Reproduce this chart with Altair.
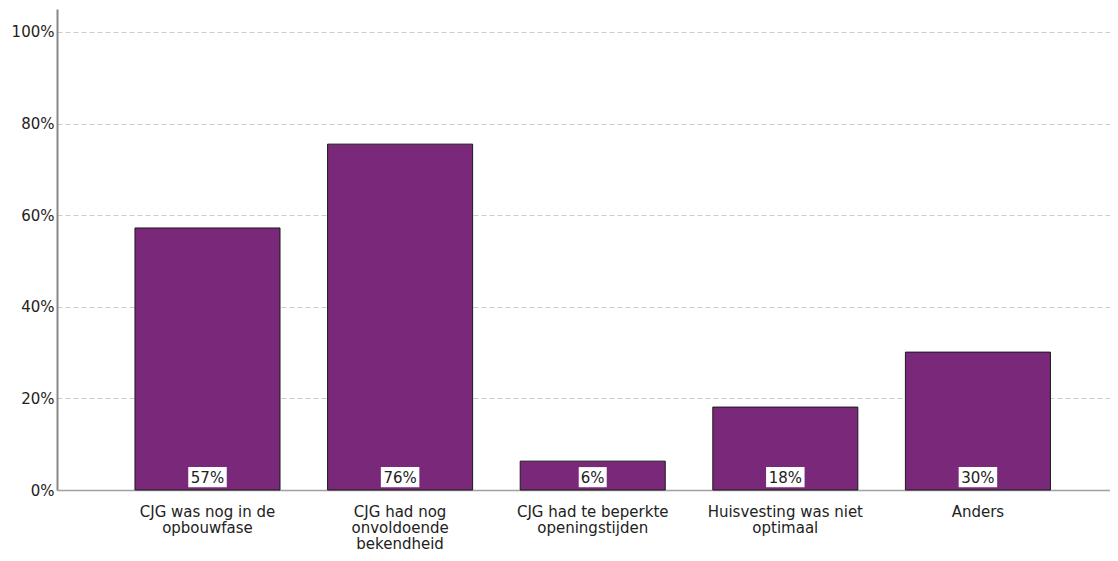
import altair as alt
import pandas as pd

categories = [
    "CJG was nog in de\nopbouwfase",
    "CJG had nog\nonvoldoende\nbekendheid",
    "CJG had te beperkte\nopeningstijden",
    "Huisvesting was niet\noptimaal",
    "Anders",
]
values = [0.572, 0.755, 0.063, 0.181, 0.301]
labels = ["57%", "76%", "6%", "18%", "30%"]
y_ticks = [0, 0.2, 0.4, 0.6, 0.8, 1.0]

df = pd.DataFrame({"cat": categories, "value": values, "label": labels})

FONT = "DejaVu Sans"

x = alt.X(
    "cat:N", sort=None, title=None,
    scale=alt.Scale(paddingInner=0.247, paddingOuter=0.357, align=0.567),
    axis=alt.Axis(labelAngle=0, labelExpr="split(datum.label, '\\n')", ticks=False,
                  domain=True, domainColor="#a0a0a0", domainWidth=1.5,
                  labelPadding=14, labelFont=FONT, labelFontSize=15, labelColor="#222",
                  labelLineHeight=16, labelBaseline="top", labelLimit=0),
)
y_scale = alt.Scale(domain=[0, 1.05], nice=False)

base = alt.Chart(df)

bars = base.mark_bar(color="#7a2879", stroke="#1a1a1a", strokeWidth=1).encode(
    x=x,
    y=alt.Y("value:Q", scale=y_scale, title=None,
            axis=alt.Axis(values=y_ticks, format="%", grid=True, gridDash=[5, 3],
                          gridColor="#cccccc", ticks=False, domainColor="#888888",
                          domainWidth=2, labelPadding=3, labelFont=FONT,
                          labelFontSize=15, labelColor="#222")),
)

boxes = base.transform_calculate(boxw="length(datum.label) * 10.5 + 7").mark_bar(
    color="white").encode(
    x=alt.X("cat:N", sort=None),
    y=alt.datum(0.006),
    y2=alt.datum(0.05),
    size=alt.Size("boxw:Q", scale=None, legend=None),
)

texts = base.mark_text(font=FONT, fontSize=15, color="#222", baseline="middle").encode(
    x=alt.X("cat:N", sort=None),
    y=alt.datum(0.027),
    text="label:N",
)

chart = (bars + boxes + texts).properties(
    width=1053, height=481,
    autosize=alt.AutoSizeParams(type="none"),
    padding={"left": 49, "top": 1, "right": 0, "bottom": 62},
).configure_view(stroke=None)

chart.save("out.html", embed_options={"renderer": "svg", "actions": False})
